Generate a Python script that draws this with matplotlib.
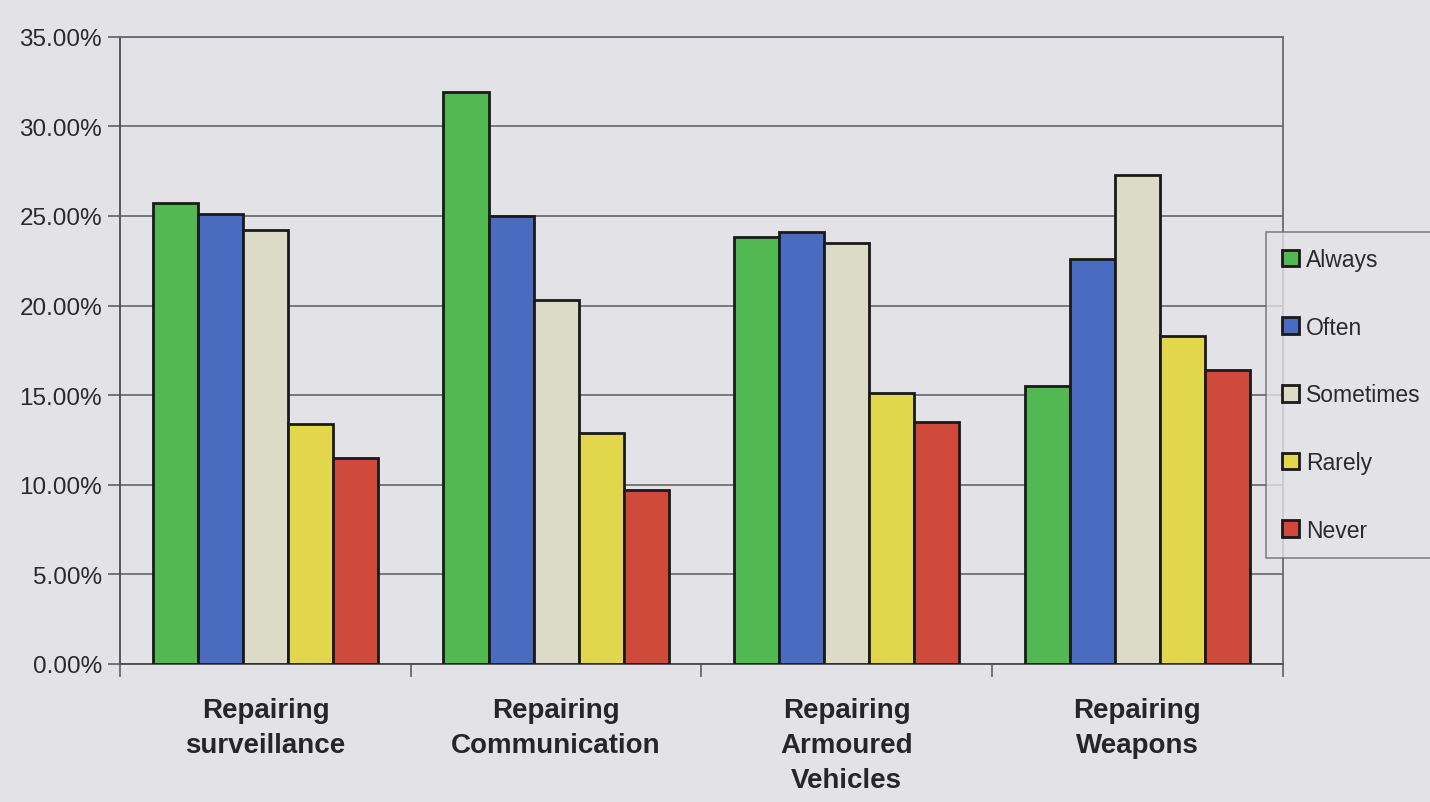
import matplotlib
matplotlib.use("Agg")
import matplotlib.pyplot as plt
import numpy as np
from matplotlib.ticker import FuncFormatter, FixedLocator

plt.rcParams['font.family'] = ['Liberation Sans', 'DejaVu Sans']

categories = ["Repairing\nsurveillance", "Repairing\nCommunication",
              "Repairing\nArmoured\nVehicles", "Repairing\nWeapons"]
series_names = ["Always", "Often", "Sometimes", "Rarely", "Never"]
always = [25.7, 31.9, 23.8, 15.5]
often = [25.1, 25.0, 24.1, 22.6]
sometimes = [24.2, 20.3, 23.5, 27.3]
rarely = [13.4, 12.9, 15.1, 18.3]
never = [11.5, 9.7, 13.5, 16.4]
series_values = [always, often, sometimes, rarely, never]
colors = ["#52b852", "#4a6cc0", "#dcdbc8", "#e2d74c", "#cf4a3a"]
yticks = [0, 5, 10, 15, 20, 25, 30, 35]

bg = "#e3e2e7"
fig = plt.figure(figsize=(14.3, 8.03), dpi=100, facecolor=bg)
ax = fig.add_axes([0.084, 0.172, 0.813, 0.781], facecolor=bg)

x = np.arange(len(categories))
bw = 0.155
for i, (name, vals) in enumerate(zip(series_names, series_values)):
    ax.bar(x + (i - 2) * bw, vals, width=bw, color=colors[i],
           edgecolor="#1a1a1a", linewidth=2.0, label=name, zorder=3)

ax.set_xlim(-0.5, len(categories) - 0.5)
ax.set_ylim(0, 35)
ax.set_yticks(yticks)
ax.yaxis.set_major_formatter(FuncFormatter(lambda v, p: f"{v:.2f}%"))
ax.yaxis.grid(True, color="#5a5a5e", linewidth=1.1, zorder=0)
ax.tick_params(axis='y', labelsize=17.5, length=9, width=1.1, color="#55555a",
               labelcolor="#2a2a2a", pad=4)

ax.set_xticks(x)
ax.set_xticklabels(categories, fontsize=20, fontweight='bold', color="#262626",
                   linespacing=1.45)
ax.tick_params(axis='x', which='major', length=0, pad=24)
ax.xaxis.set_minor_locator(FixedLocator(np.arange(-0.5, len(categories), 1.0)))
ax.tick_params(axis='x', which='minor', length=9, width=1.1, color="#55555a")

for side in ["left", "bottom"]:
    ax.spines[side].set_color("#4a4a50")
    ax.spines[side].set_linewidth(1.3)
for side in ["top", "right"]:
    ax.spines[side].set_color("#6a6a70")
    ax.spines[side].set_linewidth(1.3)

leg = fig.legend(loc="upper left", bbox_to_anchor=(0.885, 0.71),
                 fontsize=16.5, frameon=True, fancybox=False,
                 handlelength=0.75, handleheight=0.75, handletextpad=0.3,
                 labelspacing=1.95, borderpad=0.7, borderaxespad=0)
leg.get_frame().set_facecolor(bg)
leg.get_frame().set_edgecolor("#6a6a70")
leg.get_frame().set_linewidth(1.2)
for t in leg.get_texts():
    t.set_color("#2a2a2a")

fig.savefig("out.png", dpi=100, facecolor=bg)
